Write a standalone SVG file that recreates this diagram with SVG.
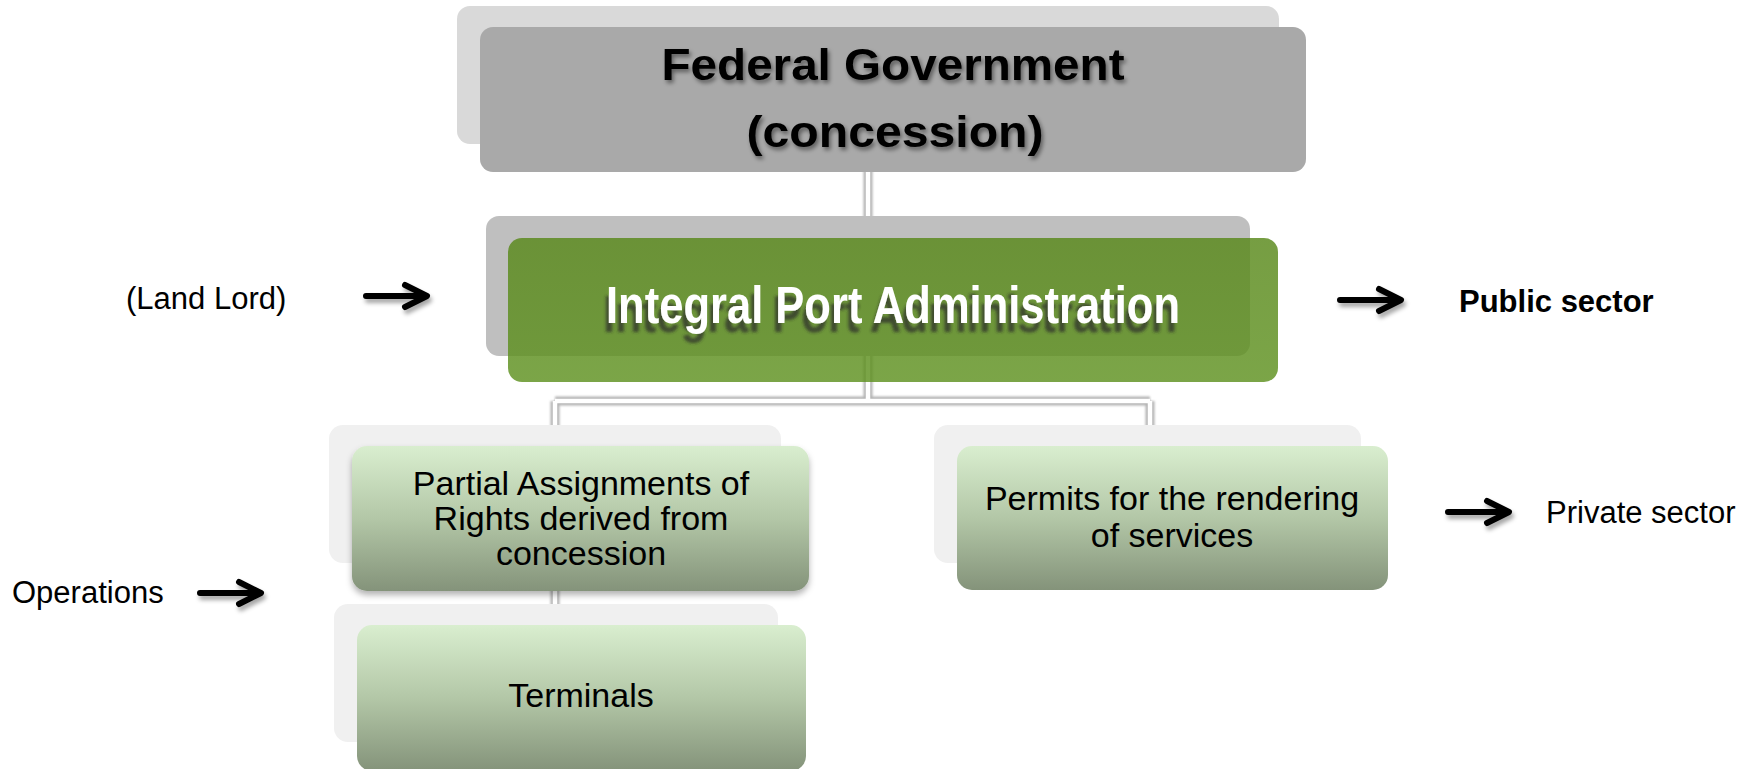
<svg xmlns="http://www.w3.org/2000/svg" width="1756" height="769" viewBox="0 0 1756 769">
  <defs>
    <style>
      .lbl { font-family: "Liberation Sans", Arial, sans-serif; font-size: 31px; fill: #000; }
      .lbl-b { font-weight: bold; }
      .box-text { font-family: "Liberation Sans", Arial, sans-serif; font-size: 34px; fill: #000; text-anchor: middle; }
      .head { font-family: "Liberation Sans", Arial, sans-serif; font-weight: bold; text-anchor: middle; }
      .back-pale { fill: #f0f0f0; }
      .arrow { fill: none; stroke: #000; stroke-width: 6; stroke-linecap: round; stroke-linejoin: round; }
      .conn-halo { fill: none; stroke: #b4b4b4; stroke-width: 9; }
      .conn-core { fill: none; stroke: #ffffff; stroke-width: 4.5; }
    </style>
    <linearGradient id="paleGreen" x1="0" y1="0" x2="0" y2="1">
      <stop offset="0" stop-color="#d9eecf"/>
      <stop offset="0.5" stop-color="#b3c7a7"/>
      <stop offset="1" stop-color="#84937a"/>
    </linearGradient>
    <linearGradient id="portGreen" x1="0" y1="0" x2="0" y2="1">
      <stop offset="0" stop-color="#588819"/>
      <stop offset="1" stop-color="#5e911f"/>
    </linearGradient>
    <filter id="boxShadow" x="-10%" y="-10%" width="120%" height="130%">
      <feDropShadow dx="0" dy="4" stdDeviation="3" flood-color="#000" flood-opacity="0.3"/>
    </filter>
    <filter id="soft" x="-20%" y="-20%" width="140%" height="140%">
      <feGaussianBlur stdDeviation="1.3"/>
    </filter>
    <filter id="textShadow" x="-10%" y="-30%" width="120%" height="160%">
      <feDropShadow dx="2" dy="3" stdDeviation="2" flood-color="#000" flood-opacity="0.45"/>
    </filter>
    <!-- offset, blurred dark echo beneath the white heading -->
    <filter id="echoShadow" x="-10%" y="-40%" width="120%" height="200%">
      <feOffset in="SourceAlpha" dx="-3" dy="9" result="off"/>
      <feGaussianBlur in="off" stdDeviation="1.6" result="blur"/>
      <feFlood flood-color="#2a2a2a" flood-opacity="0.7"/>
      <feComposite in2="blur" operator="in" result="shadow"/>
      <feMerge>
        <feMergeNode in="shadow"/>
        <feMergeNode in="SourceGraphic"/>
      </feMerge>
    </filter>
    <filter id="arrowShadow" x="-30%" y="-60%" width="160%" height="240%">
      <feDropShadow dx="2" dy="4" stdDeviation="2.2" flood-color="#000" flood-opacity="0.35"/>
    </filter>
    <g id="arrowShape">
      <path class="arrow" d="M0,0 H60 M39,-11 L61,0 L39,11"/>
    </g>
  </defs>

  <rect width="1756" height="769" fill="#ffffff"/>

  <!-- tree connectors: white strokes with a grey halo -->
  <g id="connectors">
    <g filter="url(#soft)">
      <path class="conn-halo" d="M868,150 V401 M555,401 H1150 M555,401 V625 M1150,401 V430"/>
    </g>
    <path class="conn-core" d="M868,150 V401 M555,401 H1150 M555,401 V625 M1150,401 V430"/>
  </g>

  <!-- Federal Government -->
  <g id="node-federal">
    <rect x="457" y="6" width="822" height="138" rx="13" fill="#d9d9d9"/>
    <rect x="480" y="27" width="826" height="145" rx="13" fill="#a9a9a9"/>
    <g filter="url(#textShadow)">
      <text class="head" x="893" y="80" font-size="44" textLength="463" lengthAdjust="spacingAndGlyphs">Federal Government</text>
      <text class="head" x="895" y="147" font-size="44" textLength="297" lengthAdjust="spacingAndGlyphs">(concession)</text>
    </g>
  </g>

  <!-- Integral Port Administration -->
  <g id="node-port">
    <rect x="486" y="216" width="764" height="140" rx="13" fill="#bfbfbf"/>
    <rect x="508" y="238" width="770" height="144" rx="14" fill="url(#portGreen)" fill-opacity="0.82"/>
    <text class="head" x="893" y="323" font-size="51" fill="#ffffff" filter="url(#echoShadow)" textLength="574" lengthAdjust="spacingAndGlyphs">Integral Port Administration</text>
  </g>

  <!-- Partial Assignments -->
  <g id="node-partial">
    <rect class="back-pale" x="329" y="425" width="452" height="138" rx="14"/>
    <rect x="352" y="446" width="457" height="145" rx="15" fill="url(#paleGreen)" filter="url(#boxShadow)"/>
    <text class="box-text" x="581" y="495">Partial Assignments of</text>
    <text class="box-text" x="581" y="530">Rights derived from</text>
    <text class="box-text" x="581" y="565">concession</text>
  </g>

  <!-- Terminals -->
  <g id="node-terminals">
    <rect class="back-pale" x="334" y="604" width="444" height="138" rx="14"/>
    <rect x="357" y="625" width="449" height="146" rx="15" fill="url(#paleGreen)"/>
    <text class="box-text" x="581" y="707">Terminals</text>
  </g>

  <!-- Permits -->
  <g id="node-permits">
    <rect class="back-pale" x="934" y="425" width="427" height="138" rx="14"/>
    <rect x="957" y="446" width="431" height="144" rx="15" fill="url(#paleGreen)"/>
    <text class="box-text" x="1172" y="510">Permits for the rendering</text>
    <text class="box-text" x="1172" y="547">of services</text>
  </g>

  <!-- side annotations -->
  <g id="note-landlord">
    <text class="lbl" x="126" y="309">(Land Lord)</text>
    <use href="#arrowShape" transform="translate(366,296)" filter="url(#arrowShadow)"/>
  </g>
  <g id="note-operations">
    <text class="lbl" x="12" y="603">Operations</text>
    <use href="#arrowShape" transform="translate(200,593)" filter="url(#arrowShadow)"/>
  </g>
  <g id="note-public">
    <use href="#arrowShape" transform="translate(1340,300)" filter="url(#arrowShadow)"/>
    <text class="lbl lbl-b" x="1459" y="312">Public sector</text>
  </g>
  <g id="note-private">
    <use href="#arrowShape" transform="translate(1448,512)" filter="url(#arrowShadow)"/>
    <text class="lbl" x="1546" y="523">Private sector</text>
  </g>
</svg>
